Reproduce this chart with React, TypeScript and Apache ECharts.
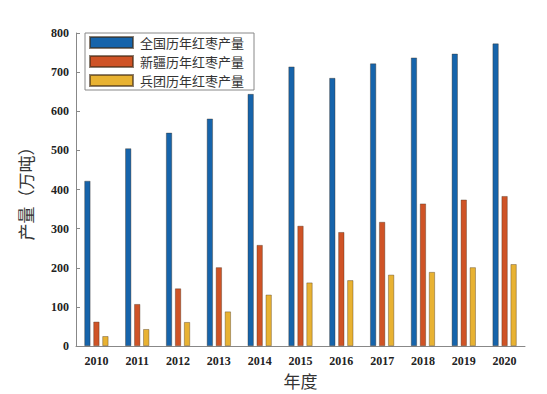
import React, { useEffect, useRef } from "react";
import * as echarts from "echarts";

const years = ["2010", "2011", "2012", "2013", "2014", "2015", "2016", "2017", "2018", "2019", "2020"];
const national = [422, 505, 545, 581, 644, 714, 685, 722, 737, 747, 773];
const xinjiang = [62, 107, 147, 201, 258, 307, 291, 317, 364, 374, 383];
const bingtuan = [25, 43, 61, 88, 131, 162, 168, 182, 189, 201, 209];
const seriesNames = ["全国历年红枣产量", "新疆历年红枣产量", "兵团历年红枣产量"];
const colors = ["#1664ab", "#cf5326", "#e8b232"];

export default function App() {
  const ref = useRef<HTMLDivElement>(null);
  useEffect(() => {
    if (!ref.current) return;
    const chart = echarts.init(ref.current, null, { renderer: "svg" });
    const serif = "'Liberation Serif', 'DejaVu Serif', serif";
    const cjk = "'Noto Sans CJK SC', sans-serif";
    const mk = (i: number, data: number[]) => ({
      name: seriesNames[i],
      type: "bar",
      data,
      barWidth: 6,
      barGap: "50%",
      itemStyle: { color: colors[i], borderColor: "rgba(60,40,20,0.6)", borderWidth: 0.6 },
    });
    chart.setOption({
      animation: false,
      backgroundColor: "#ffffff",
      grid: { left: 76, right: 22, top: 33, bottom: 48 },
      legend: {
        orient: "vertical",
        left: 85,
        top: 33,
        itemWidth: 43,
        itemHeight: 11,
        itemGap: 0,
        padding: [0, 10, 0, 4],
        borderColor: "#888",
        borderWidth: 1,
        borderRadius: 0,
        icon: "rect",
        textStyle: { fontFamily: cjk, fontSize: 13, lineHeight: 19, color: "#333", padding: [0, 0, 0, 2] },
        data: seriesNames,
      },
      xAxis: {
        type: "category",
        data: years,
        name: "年度",
        nameLocation: "middle",
        nameGap: 26,
        nameTextStyle: { fontFamily: cjk, fontSize: 17, color: "#333" },
        axisLine: { lineStyle: { color: "#888" } },
        axisTick: { show: false },
        axisLabel: { fontFamily: serif, fontWeight: "bold", fontSize: 12, color: "#222", margin: 9 },
      },
      yAxis: {
        type: "value",
        min: 0,
        max: 800,
        interval: 100,
        name: "产量（万吨）",
        nameLocation: "middle",
        nameGap: 42,
        nameTextStyle: { fontFamily: cjk, fontSize: 17, color: "#333" },
        axisLine: { show: true, lineStyle: { color: "#888" } },
        axisTick: { show: true, inside: true, length: 4, lineStyle: { color: "#888" } },
        splitLine: { show: false },
        axisLabel: { fontFamily: serif, fontWeight: "bold", fontSize: 12, color: "#222", margin: 7 },
      },
      series: [mk(0, national), mk(1, xinjiang), mk(2, bingtuan)],
    });
    return () => chart.dispose();
  }, []);
  return <div ref={ref} style={{ width: 547, height: 394, position: "absolute", left: 0, top: 0 }} />;
}
